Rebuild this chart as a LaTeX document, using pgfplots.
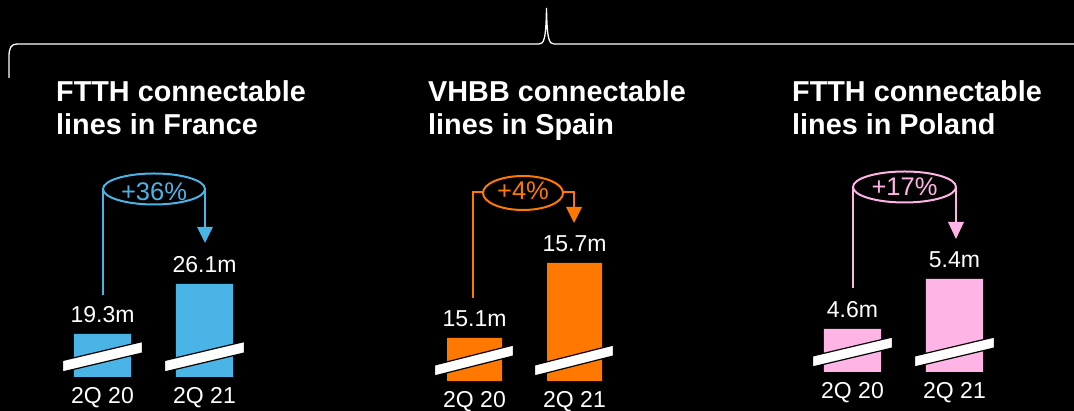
\documentclass[border=0pt]{standalone}
\usepackage{fontspec}
\setmainfont{Liberation Sans}
\usepackage{pgfplots}
\pgfplotsset{compat=1.18}
\usetikzlibrary{calc}
\definecolor{oblue}{HTML}{4BB4E6}
\definecolor{oorange}{HTML}{FF7900}
\definecolor{opink}{HTML}{FFB4E6}
\tikzset{slash/.style={fill=white, draw=black, line width=1.2pt}}
\pgfplotsset{
  grp/.style={
    scale only axis, height=150pt,
    anchor=south west,
    xmin=-0.5, xmax=1.5,
    axis line style={draw=none},
    ytick=\empty, xtick={0,1}, xticklabels={2Q 20,2Q 21},
    xtick pos=bottom,
    major tick length=0pt,
    xticklabel style={font=\fontsize{23}{23}\selectfont, text=white, anchor=base, yshift=-26.5pt},
    ybar, bar shift=0pt,
    nodes near coords={\pgfmathprintnumber[fixed,fixed zerofill,precision=1,assume math mode=true]{\pgfplotspointmeta}m},
    every node near coord/.append style={font=\fontsize{23}{23}\selectfont, text=white, anchor=base, yshift=11pt},
    clip=false,
  },
}
\begin{document}
\begin{tikzpicture}[x=1pt,y=1pt]
\path[use as bounding box, fill=black] (0,0) rectangle (1074,411);
% brace
\draw[white, line width=1.3pt] (9,333) -- (9,354) .. controls (9,363) and (11,367) .. (17,367) -- (539,367) .. controls (544,367) and (546,372) .. (546.5,403) .. controls (547,372) and (549,367) .. (554,367) -- (1074,367);
% titles
\tikzset{ttl/.style={anchor=base west, text=white, inner sep=0pt, font=\fontsize{28.8}{30}\bfseries\selectfont}}
\node[ttl] at (56,309) {FTTH connectable};
\node[ttl] at (56,276) {lines in France};
\node[ttl] at (428,309) {VHBB connectable};
\node[ttl] at (428,276) {lines in Spain};
\node[ttl] at (792,309) {FTTH connectable};
\node[ttl] at (792,276) {lines in Poland};

% France
\begin{axis}[grp, at={(51.5pt,34pt)}, width=204pt, ymin=13.452, ymax=33.852, bar width=0.559]
\addplot[fill=oblue, draw=none] coordinates {(0,19.3) (1,26.1)};
\draw[slash] ($(axis cs:0,13.452)+(-40pt,5pt)$) -- ++(0pt,11.5pt) -- ++(80pt,19pt) -- ++(0pt,-11.5pt) -- cycle;
\draw[slash] ($(axis cs:1,13.452)+(-40pt,5pt)$) -- ++(0pt,11.5pt) -- ++(80pt,19pt) -- ++(0pt,-11.5pt) -- cycle;
\end{axis}

% Spain
\begin{axis}[grp, at={(424.5pt,30pt)}, width=200pt, ymin=14.756, ymax=15.956, bar width=0.55]
\addplot[fill=oorange, draw=none] coordinates {(0,15.1) (1,15.7)};
\draw[slash] ($(axis cs:0,14.756)+(-40pt,5pt)$) -- ++(0pt,11pt) -- ++(79pt,20pt) -- ++(0pt,-11pt) -- cycle;
\draw[slash] ($(axis cs:1,14.756)+(-40pt,5pt)$) -- ++(0pt,11pt) -- ++(79pt,20pt) -- ++(0pt,-11pt) -- cycle;
\end{axis}

% Poland
\begin{axis}[grp, at={(801.5pt,39pt)}, width=204pt, ymin=3.912, ymax=6.312, bar width=0.559]
\addplot[fill=opink, draw=none] coordinates {(0,4.6) (1,5.4)};
\draw[slash] ($(axis cs:0,3.912)+(-40pt,5pt)$) -- ++(0pt,11pt) -- ++(80pt,19pt) -- ++(0pt,-11pt) -- cycle;
\draw[slash] ($(axis cs:1,3.912)+(-40pt,5pt)$) -- ++(0pt,11pt) -- ++(80pt,19pt) -- ++(0pt,-11pt) -- cycle;
\end{axis}

% growth arrows
\tikzset{pct/.style={anchor=base, inner sep=0pt, font=\fontsize{25.5}{26}\selectfont}}
% France
\draw[oblue, line width=2pt] (102.5,116) -- (102.5,221);
\draw[oblue, line width=2pt] (154,222) ellipse [x radius=51pt, y radius=15.5pt];
\node[pct, text=oblue] at (154,210.5) {+36\%};
\draw[oblue, line width=2pt] (205,221) -- (205,184);
\fill[oblue] (197,184) -- (213,184) -- (205,168) -- cycle;
% Spain
\draw[oorange, line width=2pt] (473,113) -- (473,219) -- (483,219);
\draw[oorange, line width=2pt] (523,218) ellipse [x radius=40pt, y radius=17pt];
\node[pct, text=oorange] at (523,211) {+4\%};
\draw[oorange, line width=2pt] (563,219) -- (574,219) -- (574,204);
\fill[oorange] (566,204) -- (582,204) -- (574,188) -- cycle;
% Poland
\draw[opink, line width=2pt] (852.5,123) -- (852.5,223);
\draw[opink, line width=2pt] (904.5,224) ellipse [x radius=51.5pt, y radius=15.5pt];
\node[pct, text=opink] at (904.5,215.3) {+17\%};
\draw[opink, line width=2pt] (956,223) -- (956,189);
\fill[opink] (948,189) -- (964,189) -- (956,172) -- cycle;
\end{tikzpicture}
\end{document}
